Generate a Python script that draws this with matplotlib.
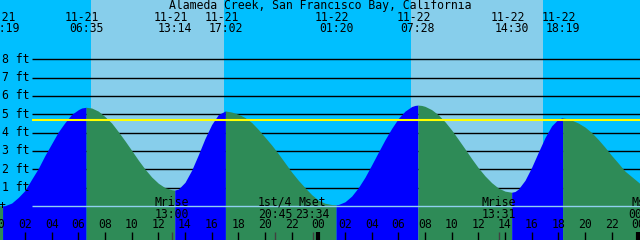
import matplotlib
matplotlib.use('Agg')
import matplotlib.pyplot as plt
import numpy as np

# tide height (ft), hours counted from 11-21 00:00
tide_hours = [0, 0.32, 0.5, 1, 1.5, 2, 2.5, 3, 3.5, 4, 4.5, 5, 5.5, 6, 6.25, 6.58,
              7, 7.5, 8, 8.5, 9, 9.5, 10, 10.5, 11, 11.5, 12, 12.5, 13, 13.23,
              13.5, 14, 14.5, 15, 15.5, 16, 16.5, 17.03,
              17.5, 18, 18.5, 19, 19.5, 20, 20.5, 21, 21.5, 22, 22.5, 23, 23.5, 24, 24.5, 25, 25.33,
              25.5, 26, 26.5, 27, 27.5, 28, 28.5, 29, 29.5, 30, 30.5, 31, 31.25, 31.47,
              31.75, 32, 32.5, 33, 33.5, 34, 34.5, 35, 35.5, 36, 36.5, 37, 37.5, 38, 38.5,
              38.75, 39, 39.5, 40, 40.5, 41, 41.5, 42, 42.32,
              42.75, 43, 43.5, 44, 44.5, 45, 45.5, 46, 46.5, 47, 47.5, 48, 48.125]
tide_feet = [0.02, 0.01, 0.02, 0.16, 0.47, 0.85, 1.46, 2.05, 2.76, 3.40, 4.04, 4.55, 4.99, 5.25, 5.34, 5.38,
             5.34, 5.17, 4.87, 4.52, 4.05, 3.55, 3.03, 2.50, 2.01, 1.58, 1.24, 1.00, 0.89, 0.87,
             0.92, 1.29, 1.95, 2.79, 3.68, 4.44, 4.98, 5.18,
             5.12, 5.00, 4.82, 4.55, 4.17, 3.75, 3.32, 2.85, 2.35, 1.85, 1.40, 1.00, 0.62, 0.32, 0.15, 0.08, 0.07,
             0.08, 0.23, 0.54, 1.00, 1.57, 2.24, 2.93, 3.61, 4.23, 4.77, 5.17, 5.42, 5.48, 5.50,
             5.48, 5.43, 5.25, 4.97, 4.59, 4.14, 3.63, 3.11, 2.58, 2.08, 1.64, 1.27, 0.98, 0.81, 0.75,
             0.79, 0.92, 1.40, 2.11, 2.93, 3.73, 4.37, 4.74, 4.81,
             4.74, 4.68, 4.52, 4.30, 4.00, 3.62, 3.20, 2.75, 2.33, 1.90, 1.60, 1.30, 1.22]

# high / low tide events
evt_hours = [0.32, 6.58, 13.23, 17.03, 25.33, 31.47, 38.50, 42.32]
evt_dates = ['11-21', '11-21', '11-21', '11-21', '11-22', '11-22', '11-22', '11-22']
evt_times = ['00:19', '06:35', '13:14', '17:02', '01:20', '07:28', '14:30', '18:19']

# daylight (sunrise, sunset)
daylight = [(6.95, 16.93), (30.95, 40.83)]

# moon events
moon_hours = [13.0, 20.75, 23.57, 37.52, 48.55]
moon_names = ['Mrise', '1st/4', 'Mset', 'Mrise', 'Mset']
moon_times = ['13:00', '20:45', '23:34', '13:31', '00:33']

ft_levels = [1, 2, 3, 4, 5, 6, 7, 8]
mark_level = 4.66

title = 'Alameda Creek, San Francisco Bay, California'

font = {'family': 'DejaVu Sans Mono', 'size': 8.3, 'color': 'black'}
night = '#00bfff'
day = '#87ceeb'
rising = '#0000ff'
falling = '#2e8b57'

fig = plt.figure(figsize=(6.4, 2.4), dpi=100)
ax = fig.add_axes([0, 0, 1, 1])
x0, x1 = 0.125, 48.125
y0, y1 = -1.853, 11.226
ax.set_xlim(x0, x1)
ax.set_ylim(y0, y1)
ax.axis('off')

def row(px):
    # pixel row -> axes fraction
    return 1 - px / 240.0

xt = ax.get_xaxis_transform()

ax.axvspan(x0, x1, color=night, lw=0, zorder=0)
for a, b in daylight:
    ax.axvspan(a, b, color=day, lw=0, zorder=0)

line_start = 2.525
ax.hlines(ft_levels, line_start, x1, color='black', lw=1, zorder=1)
for lv in ft_levels:
    ax.text(0.253, lv, '%d ft' % lv, ha='left', va='center', zorder=5, **font)

# tide fill, blue while rising, green while falling
t = np.array(tide_hours)
h = np.array(tide_feet)
edges = [-1] + evt_hours + [100]
for i in range(len(edges) - 1):
    m = (t >= edges[i]) & (t <= edges[i + 1])
    rise = i % 2 == 1
    ax.fill_between(t[m], h[m], y0, color=rising if rise else falling,
                    lw=0, zorder=2)

ax.hlines(0, line_start, x1, color='#90d0f0', lw=1, zorder=3)
ax.hlines(mark_level, line_start, x1, color='#ffff00', lw=1.5, zorder=3)
ax.text(0.25, 0, '+', ha='center', va='center', zorder=5, **font)

# top labels
ax.text(0.5, row(6), title, transform=ax.transAxes, ha='center', va='center', **font)
for et, d, tm in zip(evt_hours, evt_dates, evt_times):
    ax.text(et - 0.3, row(17.5), d, transform=xt, ha='center', va='center', **font)
    ax.text(et, row(29), tm, transform=xt, ha='center', va='center', **font)

# hour axis at the bottom
for hr in range(0, 49, 2):
    ax.text(hr, row(225), '%02d' % (hr % 24), transform=xt, ha='center', va='center', zorder=5, **font)
    ax.vlines(hr, row(240), row(232), transform=xt, color='black',
              lw=3 if hr % 24 == 0 else 1, zorder=5)

# moon
for mt, nm, tm in zip(moon_hours, moon_names, moon_times):
    ax.text(mt, row(202), nm, transform=xt, ha='center', va='center', zorder=5, **font)
    ax.text(mt, row(214), tm, transform=xt, ha='center', va='center', zorder=5, **font)
    ax.vlines(mt, row(240), row(232), transform=xt, color='#404040', lw=1, zorder=5)

fig.savefig('out.png', dpi=100)
